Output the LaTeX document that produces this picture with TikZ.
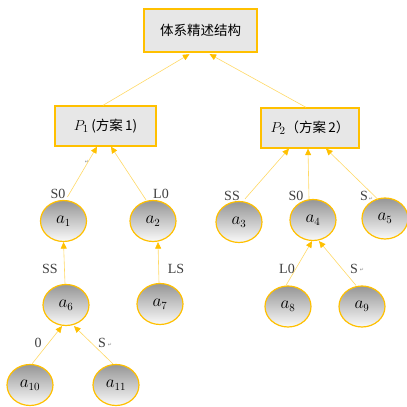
\documentclass[tikz,border=0pt]{standalone}
\usepackage{fontspec}
\setmainfont{Liberation Serif}
\newfontfamily\cjk{Noto Sans CJK SC}
\newfontfamily\symf{DejaVu Sans}
\usetikzlibrary{arrows.meta,calc,shapes.geometric}
\definecolor{borderor}{HTML}{FFC000}
\definecolor{edgey}{HTML}{FFD966}
\definecolor{boxgray}{HTML}{E7E7E7}
\begin{document}
\begin{tikzpicture}[x=1pt,y=-1pt,
  bx/.style={draw=borderor,line width=1.3pt,fill=boxgray,inner sep=0pt,font=\fontsize{13.5}{16}\selectfont\cjk},
  circ/.style={ellipse,draw=borderor,line width=1.2pt,minimum width=46pt,minimum height=41pt,inner sep=0pt,
    top color={rgb,255:red,150;green,150;blue,150},bottom color={rgb,255:red,250;green,250;blue,250},
    font=\fontsize{16}{18}\selectfont},
  edge/.style={draw=edgey,line width=0.6pt,-{Triangle[length=6.5pt,width=6pt,fill=borderor,color=borderor]}},
  lbl/.style={font=\fontsize{14}{16}\selectfont,text=black!75,inner sep=0pt},
  pm/.style={font=\fontsize{5}{6}\selectfont\symf,text=black!45,inner sep=0pt}]
\useasboundingbox (0,0) rectangle (407,407);
% boxes
\node[bx,minimum width=113pt,minimum height=43pt] (top) at (200.5,30.5) {体系精述结构};
\node[bx,minimum width=101pt,minimum height=40pt] (p1) at (105.5,126) {\fontsize{15}{17}\selectfont$P_1$\,\fontsize{13.5}{16}\selectfont(方案\,1)};
\node[bx,minimum width=98pt,minimum height=40pt] (p2) at (310,128) {\fontsize{15}{17}\selectfont$P_2$\fontsize{13.5}{16}\selectfont（方案\,2）};
% circles
\node[circ] (a1) at (63.5,221) {$a_1$};
\node[circ] (a2) at (153,221) {$a_2$};
\node[circ] (a3) at (239,222) {$a_3$};
\node[circ] (a4) at (313,220) {$a_4$};
\node[circ] (a5) at (385,218.5) {$a_5$};
\node[circ] (a6) at (66,305) {$a_6$};
\node[circ] (a7) at (160,304) {$a_7$};
\node[circ] (a8) at (288,306.5) {$a_8$};
\node[circ] (a9) at (362,306.5) {$a_9$};
\node[circ] (a10) at (30,385) {$a_{10}$};
\node[circ] (a11) at (116,385) {$a_{11}$};
% edges
\draw[edge,shorten >=3pt] ($(p1.north)+(-2.5,0)$) -- ($(top.south)+(-8.5,0)$);
\draw[edge,shorten >=3pt] ($(p2.north)+(-4,0)$) -- ($(top.south)+(6.5,0)$);
\draw[edge] ($(a1.north)+(4,-3)$) -- ($(p1.south)+(-8.5,0)$);
\draw[edge] ($(a2.north)+(-7,0)$) -- ($(p1.south)+(5.5,0)$);
\draw[edge] ($(a3.north)+(6,-2)$) -- ($(p2.south)+(-21,0)$);
\draw[edge] ($(a4.north)+(-4,0)$) -- ($(p2.south)+(-2,0)$);
\draw[edge] ($(a5.north)+(-7,2)$) -- ($(p2.south)+(16,0)$);
\draw[edge] ($(a6.north)+(-1,0)$) -- ($(a1.south)+(0,0)$);
\draw[edge] ($(a7.north)+(-1,0)$) -- ($(a2.south)+(5,0)$);
\draw[edge] ($(a10.north)+(2,0)$) -- ($(a6.south)+(-4,0)$);
\draw[edge] ($(a11.north)+(-3,0)$) -- ($(a6.south)+(8,0)$);
\draw[edge] ($(a8.north)+(-2,0)$) -- ($(a4.south)+(-1,0)$);
\draw[edge] ($(a9.north)+(-6,0)$) -- ($(a4.south)+(6,0)$);
% labels
\node[lbl] (l1) at (58,194) {S0};
\node[lbl] (l2) at (161,194) {L0};
\node[lbl] (l3) at (232,196) {SS};
\node[lbl] (l4) at (296,196) {S0};
\node[lbl] (l5) at (364,196) {S};
\node[lbl] (l6) at (50,269) {SS};
\node[lbl] (l7) at (176,269) {LS};
\node[lbl] (l8) at (38,343) {0};
\node[lbl] (l9) at (102,343) {S};
\node[lbl] (l10) at (287,269) {L0};
\node[lbl] (l11) at (354,269) {S};
% paragraph marks
\node[pm] (m1) at (87,162) {↵};
\node[pm] (m2) at (371,199) {↵};
\node[pm] (m3) at (110,345) {↵};
\node[pm] (m4) at (362,270) {↵};
\end{tikzpicture}
\end{document}
